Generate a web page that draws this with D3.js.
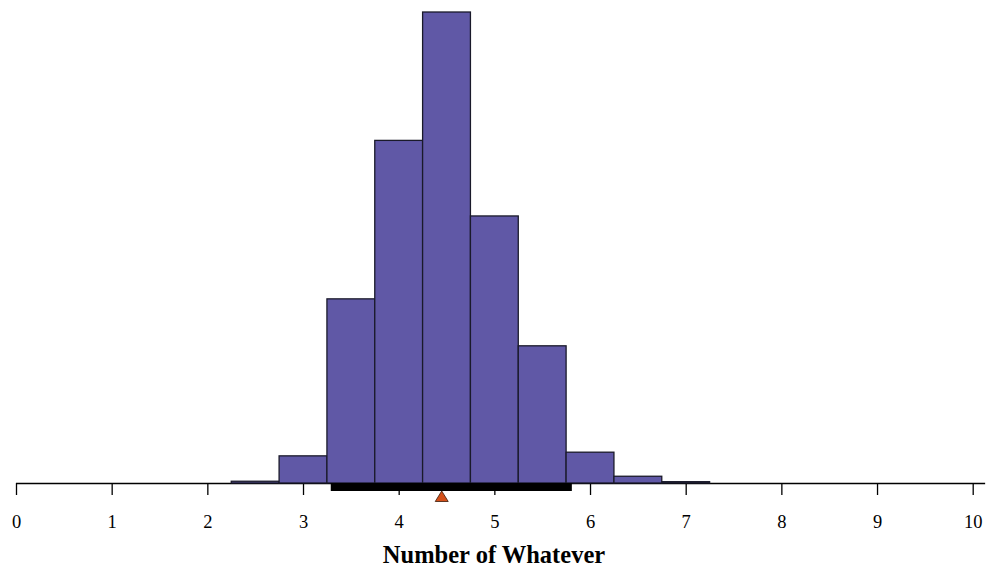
<!DOCTYPE html>
<html>
<head>
<meta charset="utf-8">
<script src="https://cdn.jsdelivr.net/npm/d3@7"></script>
<style>
  body { margin: 0; background: #fff; }
  svg { display: block; }
  .tick text { font-family: 'Liberation Serif', 'Times New Roman', serif; font-size: 18.5px; }
</style>
</head>
<body>
<div id="chart"></div>
<script>
// bin centres (width 0.5) and their share of the draws
var binCenters = [2.5, 3, 3.5, 4, 4.5, 5, 5.5, 6, 6.5, 7, 7.5, 8, 8.5, 9];
var binShares = [0.0012, 0.0185, 0.1255, 0.2335, 0.321, 0.182, 0.0935, 0.021, 0.0046, 0.0009, 0, 0, 0, 0];
var binWidth = 0.5;
var tickValues = [0, 1, 2, 3, 4, 5, 6, 7, 8, 9, 10];
var interval = [3.29, 5.81];   // black interval bar
var pointEstimate = 4.45;       // orange triangle
var xLabel = "Number of Whatever";

var W = 987, H = 573;
var baseY = 483;

var x = d3.scaleLinear().domain([0, 10]).range([16, 972.7]);
var y = d3.scaleLinear().domain([0, 0.321]).range([baseY, 12]);

var svg = d3.select("#chart").append("svg")
    .attr("width", W)
    .attr("height", H);

// axis
var axis = d3.axisBottom(x)
    .tickValues(tickValues)
    .tickSize(12)
    .tickPadding(19.5)
    .tickSizeOuter(0)
    .tickFormat(d3.format("d"));

var gAxis = svg.append("g")
    .attr("transform", "translate(0," + baseY + ")")
    .call(axis);

gAxis.select(".domain")
    .attr("d", "M" + x(0) + ",0.5H" + x(10.13))
    .attr("stroke", "#000")
    .attr("stroke-width", 1.3);

gAxis.selectAll(".tick line")
    .attr("stroke", "#000")
    .attr("stroke-width", 1.3);

gAxis.selectAll(".tick text")
    .attr("fill", "#000");

// histogram bars
svg.append("g").selectAll("rect")
    .data(binCenters)
    .join("rect")
    .attr("x", function (d) { return x(d - binWidth / 2); })
    .attr("width", function (d) { return x(d + binWidth / 2) - x(d - binWidth / 2); })
    .attr("y", function (d, i) { return y(binShares[i]); })
    .attr("height", function (d, i) { return baseY - y(binShares[i]); })
    .attr("fill", "#6058a6")
    .attr("stroke", "#1a1a2a")
    .attr("stroke-width", 1.3);

// interval bar
svg.append("rect")
    .attr("x", x(interval[0]))
    .attr("width", x(interval[1]) - x(interval[0]))
    .attr("y", baseY)
    .attr("height", 8)
    .attr("fill", "#000");

// point estimate triangle
var px = x(pointEstimate);
svg.append("path")
    .attr("d", "M" + px + "," + (baseY + 8) + "L" + (px + 6.5) + "," + (baseY + 18.5) + "L" + (px - 6.5) + "," + (baseY + 18.5) + "Z")
    .attr("fill", "#d4501a")
    .attr("stroke", "#3a1a0a")
    .attr("stroke-width", 0.8);

// x axis title
svg.append("text")
    .attr("x", 494)
    .attr("y", 563)
    .attr("text-anchor", "middle")
    .style("font-family", "'Liberation Serif', 'Times New Roman', serif")
    .style("font-size", "24.5px")
    .style("font-weight", "bold")
    .text(xLabel);
</script>
</body>
</html>
